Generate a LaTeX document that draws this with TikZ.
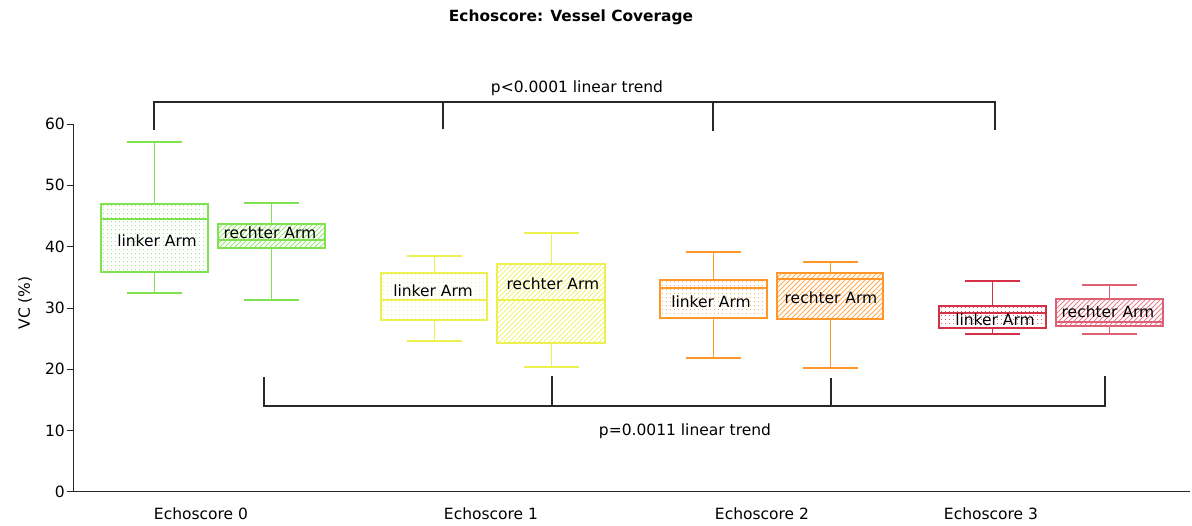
\documentclass[tikz,border=0pt]{standalone}
\usepackage{fontspec}
\setmainfont{DejaVu Sans}
\definecolor{cg}{RGB}{128,226,80}
\definecolor{cy}{RGB}{236,240,80}
\definecolor{co}{RGB}{255,150,40}
\definecolor{cr}{RGB}{212,48,72}
\definecolor{cr2}{RGB}{222,96,116}
\definecolor{ax}{RGB}{40,40,40}
\tikzset{
  lbl/.style={font=\fontsize{15.5}{18}\selectfont, text=black, inner sep=0pt},
  axisline/.style={draw=ax, line width=1pt},
  bracket/.style={draw=ax, line width=1.1pt},
  boxline/.style={line width=1.05pt},
}
% #1 left x, #2 right x, #3 max, #4 q3, #5 median, #6 q1, #7 min, #8 colour, #9 fill kind (0 dots, 1 hatch)
\newcommand\bxplot[9]{%
  \pgfmathsetmacro\bcx{floor((#1+#2)/2)+0.5}%
  \begin{scope}
    \clip (#1,#4) rectangle (#2,#6);
    \ifnum#9=0
      \pgfmathsetmacro\bxa{#1+2}\pgfmathsetmacro\bxb{#1+6}%
      \pgfmathsetmacro\bya{#4+2}\pgfmathsetmacro\byb{#4+6}%
      \foreach \xx in {\bxa,\bxb,...,#2} {
        \foreach \yy in {\bya,\byb,...,#6} {
          \fill[#8!75] (\xx-0.5,\yy-0.5) rectangle ++(1,1);
        }
      }
    \else
      \pgfmathsetmacro\bh{#6-#4}%
      \pgfmathsetmacro\bxa{#1-\bh}\pgfmathsetmacro\bxb{#1-\bh+5}%
      \foreach \xx in {\bxa,\bxb,...,#2} {
        \draw[#8!80, line width=0.8pt] (\xx,#6) -- ++(\bh,-\bh);
      }
    \fi
  \end{scope}
  \draw[#8, boxline] (#1,#4) rectangle (#2,#6);
  \draw[#8, boxline] (#1,#5) -- (#2,#5);
  \draw[#8, boxline] (\bcx,#4) -- (\bcx,#3) (\bcx-27.5,#3) -- (\bcx+27.5,#3);
  \draw[#8, boxline] (\bcx,#6) -- (\bcx,#7) (\bcx-27.5,#7) -- (\bcx+27.5,#7);
}
\begin{document}
\begin{tikzpicture}[x=1pt,y=-1pt]
\useasboundingbox (0,0) rectangle (1192,526);
% title
\node[font=\fontsize{15.4}{18}\selectfont\bfseries, inner sep=0pt] (title) at (571,17) {Echoscore: Vessel Coverage};
% axes
\draw[axisline] (73,124) -- (73,492) -- (1190,492);
\foreach \v in {0,10,...,60} {
  \pgfmathsetmacro\yy{492-6.133*\v}
  \draw[axisline] (67,\yy) -- (73,\yy);
  \node[lbl, anchor=east] (tick\v) at (65,\yy) {\v};
}
\node[lbl, rotate=90] (ylab) at (25,303) {VC (\%)};
% x labels
\node[lbl] (x0) at (201,514) {Echoscore 0};
\node[lbl] (x1) at (491,514) {Echoscore 1};
\node[lbl] (x2) at (762,514) {Echoscore 2};
\node[lbl] (x3) at (991,514) {Echoscore 3};
% boxplots
\bxplot{101}{208}{142}{204}{219}{272}{293}{cg}{0}
\bxplot{218}{325}{203}{224}{240}{248}{300}{cg}{1}
\bxplot{381}{487}{256}{273}{300}{320}{341}{cy}{0}
\bxplot{497}{605}{233}{264}{300}{343}{367}{cy}{1}
\bxplot{660}{767}{252}{280}{288}{318}{358}{co}{0}
\bxplot{777}{883}{262}{273}{279}{319}{368}{co}{1}
\bxplot{939}{1046}{281}{306}{313}{328}{334}{cr}{0}
\bxplot{1056}{1163}{285}{299}{322}{326}{334}{cr2}{1}
% box labels
\node[lbl] (l0) at (157,241) {linker Arm};
\node[lbl] (r0) at (270,233) {rechter Arm};
\node[lbl] (l1) at (433,291) {linker Arm};
\node[lbl] (r1) at (553,284) {rechter Arm};
\node[lbl] (l2) at (711,302) {linker Arm};
\node[lbl] (r2) at (831,298) {rechter Arm};
\node[lbl] (l3) at (995,320) {linker Arm};
\node[lbl] (r3) at (1108,312) {rechter Arm};
% top bracket
\coordinate (ta) at (154,130);
\coordinate (tb) at (443,129);
\coordinate (tc) at (713,131);
\coordinate (td) at (995,130);
\coordinate (ttop) at (577,102);
\draw[bracket] (ta) |- (ttop) -| (td);
\draw[bracket] (tb) -- (tb |- ttop);
\draw[bracket] (tc) -- (tc |- ttop);
\node[lbl] (ptop) at (577,88) {p<0.0001 linear trend};
% bottom bracket
\coordinate (ba) at (264,377);
\coordinate (bb) at (552,376);
\coordinate (bc) at (831,378);
\coordinate (bd) at (1105,376);
\coordinate (bbot) at (685,406);
\draw[bracket] (ba) |- (bbot) -| (bd);
\draw[bracket] (bb) -- (bb |- bbot);
\draw[bracket] (bc) -- (bc |- bbot);
\node[lbl] (pbot) at (685,431) {p=0.0011 linear trend};
\end{tikzpicture}
\end{document}
